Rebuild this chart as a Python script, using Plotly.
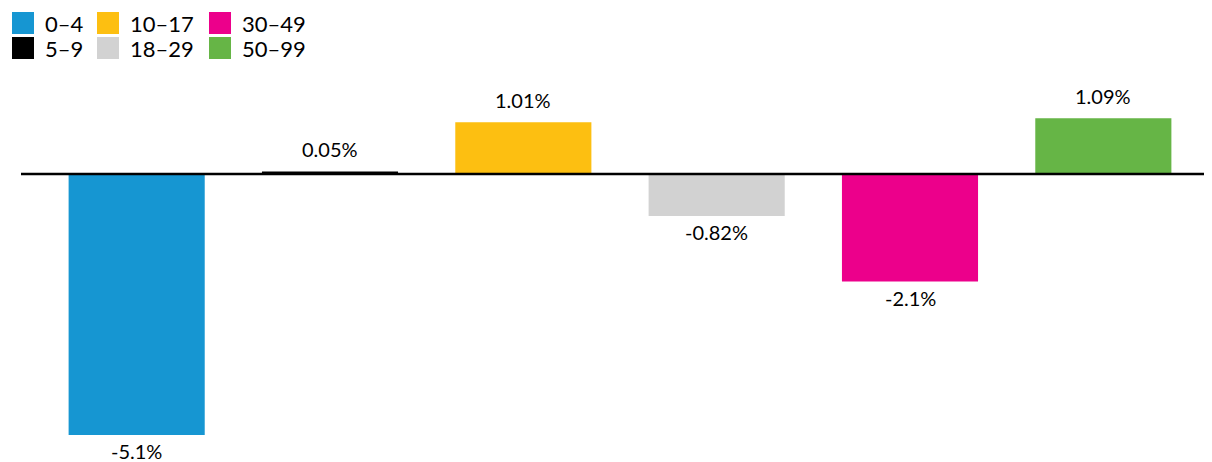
import plotly.graph_objects as go

categories = ["0–4", "5–9", "10–17", "18–29", "30–49", "50–99"]
values = [-5.1, 0.05, 1.01, -0.82, -2.1, 1.09]
labels = ["-5.1%", "0.05%", "1.01%", "-0.82%", "-2.1%", "1.09%"]
colors = ["#1696d2", "#000000", "#fdbf11", "#d2d2d2", "#ec008b", "#66b546"]

# page body has an 8px margin; figure sized to fill the rest of the window
OFF = 8
W, H = 1212 - OFF, 462 - OFF
ml, mr, mt, mb = 32, 12, 0, 0
pw = W - ml - mr
zero_y = 174 - OFF
ppu = 51.2

fig = go.Figure()
fig.add_trace(go.Bar(
    x=categories, y=values, marker=dict(color=colors, line=dict(width=0)),
    width=0.704, showlegend=False, hoverinfo="x+y",
))

# value labels
for c, v, t in zip(categories, values, labels):
    fig.add_annotation(
        x=c, y=v, text=t, showarrow=False,
        yanchor="bottom" if v >= 0 else "top",
        yshift=8 if v >= 0 else -2,
        font=dict(family="Lato", size=20, color="#000000"),
    )

# zero line
fig.add_shape(type="line", xref="paper", yref="y",
              x0=(21 - OFF - ml) / pw, x1=(W + 5 - ml) / pw, y0=0, y1=0,
              line=dict(color="#000000", width=2.5))

# manual legend (3 columns x 2 rows, column-major)
col_x = [12 - OFF, 97 - OFF, 209 - OFF]
row_y = [12 - OFF, 37 - OFF]
for i, (c, col) in enumerate(zip(categories, colors)):
    cx = col_x[i // 2]
    ry = row_y[i % 2]
    fig.add_shape(type="rect", xref="paper", yref="paper",
                  x0=(cx - ml) / pw, x1=(cx + 22 - ml) / pw,
                  y0=1 - ry / H, y1=1 - (ry + 22) / H,
                  fillcolor=col, line=dict(width=0))
    fig.add_annotation(xref="paper", yref="paper",
                       x=(cx + 31 - ml) / pw, y=1 - (ry + 11) / H,
                       xanchor="left", yanchor="middle", text=c, showarrow=False,
                       font=dict(family="Lato", size=22, color="#000000"))

fig.update_layout(
    width=W, height=H, margin=dict(l=ml, r=mr, t=mt, b=mb),
    paper_bgcolor="white", plot_bgcolor="white",
    xaxis=dict(visible=False, categoryorder="array", categoryarray=categories,
               range=[-0.5, 5.5]),
    yaxis=dict(visible=False, range=[-(H - zero_y) / ppu, zero_y / ppu]),
    font=dict(family="Lato"),
)

fig.write_html("out.html")
